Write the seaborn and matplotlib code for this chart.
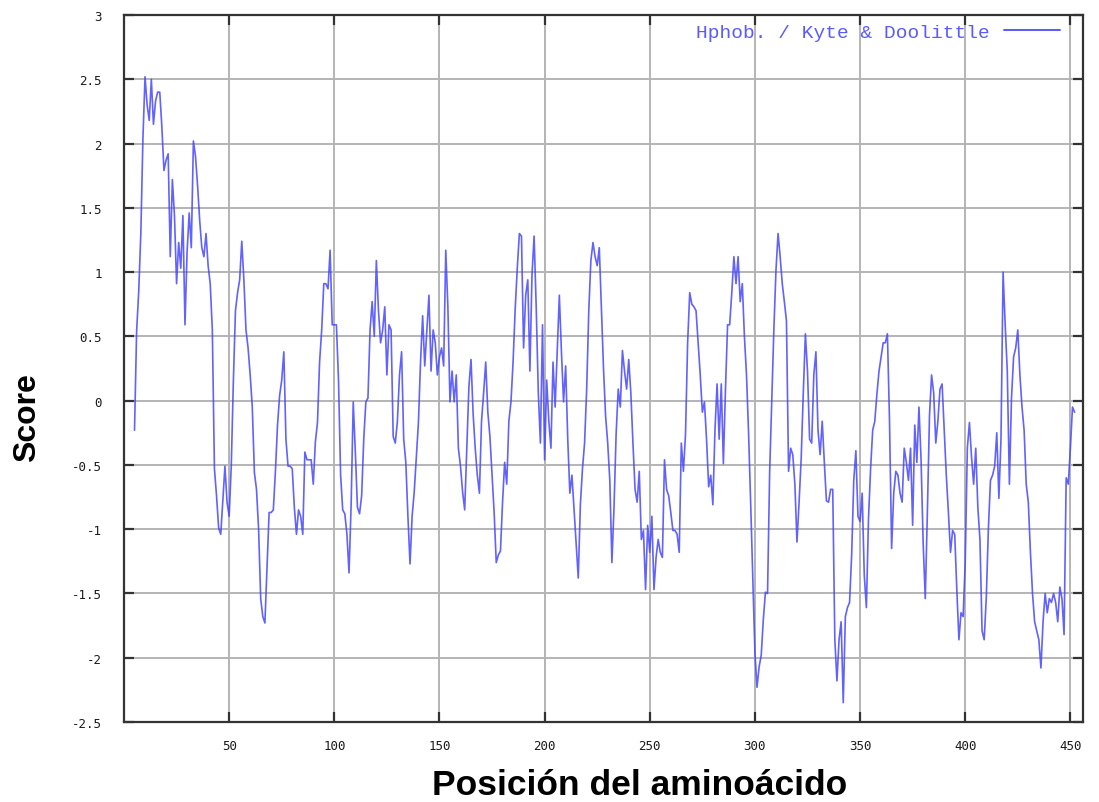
import matplotlib
matplotlib.use("Agg")
import matplotlib.pyplot as plt
import numpy as np
import pandas as pd
import seaborn as sns

# Kyte & Doolittle hydropathy scores (window 9), one value per residue from 5 onward
scores = [
    -0.23, 0.54, 0.85, 1.30, 2.04, 2.52, 2.30, 2.18, 2.50, 2.15,
    2.33, 2.40, 2.40, 2.13, 1.79, 1.87, 1.92, 1.12, 1.72, 1.44,
    0.91, 1.23, 1.03, 1.44, 0.59, 1.16, 1.46, 1.19, 2.02, 1.90,
    1.67, 1.40, 1.19, 1.12, 1.30, 1.05, 0.91, 0.55, -0.53, -0.74,
    -0.99, -1.04, -0.78, -0.51, -0.79, -0.90, -0.51, 0.15, 0.70, 0.84,
    0.94, 1.24, 0.94, 0.55, 0.41, 0.20, -0.05, -0.56, -0.69, -1.00,
    -1.54, -1.68, -1.73, -1.31, -0.87, -0.87, -0.85, -0.55, -0.19, 0.04,
    0.16, 0.38, -0.30, -0.51, -0.51, -0.53, -0.83, -1.04, -0.85, -0.90,
    -1.04, -0.40, -0.46, -0.46, -0.46, -0.65, -0.32, -0.17, 0.30, 0.55,
    0.91, 0.91, 0.87, 1.17, 0.59, 0.59, 0.59, 0.16, -0.58, -0.85,
    -0.88, -1.04, -1.34, -0.81, -0.01, -0.40, -0.83, -0.88, -0.74, -0.30,
    -0.01, 0.02, 0.55, 0.77, 0.50, 1.09, 0.70, 0.45, 0.55, 0.73,
    0.20, 0.59, 0.55, -0.28, -0.33, -0.16, 0.20, 0.38, -0.30, -0.48,
    -0.90, -1.27, -0.90, -0.71, -0.44, -0.17, 0.30, 0.66, 0.27, 0.54,
    0.82, 0.23, 0.55, 0.45, 0.20, 0.34, 0.41, 0.27, 1.17, 0.73,
    -0.01, 0.23, -0.01, 0.20, -0.37, -0.51, -0.71, -0.85, -0.37, 0.11,
    0.32, -0.10, -0.37, -0.58, -0.72, -0.16, 0.06, 0.30, -0.09, -0.28,
    -0.58, -0.87, -1.26, -1.20, -1.17, -0.79, -0.48, -0.65, -0.16, -0.01,
    0.30, 0.71, 1.03, 1.30, 1.28, 0.41, 0.82, 0.94, 0.23, 0.98,
    1.28, 0.73, 0.06, -0.33, 0.59, -0.46, 0.16, -0.16, -0.37, 0.30,
    -0.05, 0.38, 0.82, 0.38, -0.01, 0.27, -0.30, -0.72, -0.58, -0.85,
    -1.11, -1.38, -0.81, -0.53, -0.33, 0.09, 0.70, 1.09, 1.23, 1.12,
    1.05, 1.19, 0.73, 0.25, -0.12, -0.33, -0.62, -1.26, -0.83, -0.26,
    0.09, -0.05, 0.39, 0.23, 0.09, 0.32, 0.06, -0.33, -0.69, -0.79,
    -0.55, -1.08, -1.01, -1.47, -0.97, -1.18, -0.90, -1.47, -1.22, -1.08,
    -1.18, -1.22, -0.46, -0.69, -0.74, -0.87, -1.01, -1.01, -1.04, -1.18,
    -0.33, -0.55, -0.26, 0.45, 0.84, 0.75, 0.73, 0.70, 0.45, 0.20,
    -0.09, -0.01, -0.30, -0.67, -0.58, -0.81, -0.23, 0.13, -0.30, 0.13,
    -0.49, 0.09, 0.59, 0.59, 0.84, 1.12, 0.91, 1.12, 0.77, 0.91,
    0.50, 0.20, -0.26, -0.81, -1.40, -1.96, -2.23, -2.07, -1.98, -1.70,
    -1.49, -1.50, -0.56, -0.01, 0.55, 1.01, 1.30, 1.12, 0.91, 0.77,
    0.62, -0.55, -0.37, -0.42, -0.65, -1.10, -0.79, -0.45, 0.06, 0.52,
    0.23, -0.30, -0.33, 0.20, 0.38, -0.23, -0.42, -0.16, -0.48, -0.78,
    -0.79, -0.69, -0.69, -1.86, -2.18, -1.86, -1.72, -2.35, -1.68, -1.61,
    -1.57, -1.20, -0.62, -0.39, -0.90, -0.94, -0.72, -1.36, -1.61, -0.92,
    -0.53, -0.23, -0.16, 0.05, 0.23, 0.34, 0.45, 0.45, 0.52, -0.16,
    -1.15, -0.72, -0.55, -0.58, -0.72, -0.79, -0.37, -0.48, -0.62, -0.37,
    -0.97, -0.19, -0.48, -0.05, -0.46, -1.11, -1.54, -0.87, -0.12, 0.20,
    0.06, -0.33, -0.16, 0.09, 0.13, -0.23, -0.58, -0.87, -1.18, -1.01,
    -1.04, -1.47, -1.86, -1.65, -1.68, -1.26, -0.37, -0.17, -0.44, -0.65,
    -0.37, -0.83, -1.08, -1.79, -1.86, -1.54, -1.00, -0.62, -0.58, -0.51,
    -0.25, -0.76, -0.30, 1.00, 0.59, 0.23, -0.65, 0.02, 0.34, 0.41,
    0.55, 0.20, -0.05, -0.23, -0.65, -0.79, -1.18, -1.50, -1.72, -1.79,
    -1.86, -2.08, -1.72, -1.50, -1.65, -1.54, -1.57, -1.50, -1.57, -1.72,
    -1.45, -1.54, -1.82, -0.60, -0.65, -0.37, -0.05, -0.09,
]
first_position = 5
positions = list(range(first_position, first_position + len(scores)))

x_ticks = [50, 100, 150, 200, 250, 300, 350, 400, 450]
x_tick_labels = ["50", "100", "150", "200", "250", "300", "350", "400", "450"]
y_ticks = [-2.5, -2, -1.5, -1, -0.5, 0, 0.5, 1, 1.5, 2, 2.5, 3]
y_tick_labels = ["-2.5", "-2", "-1.5", "-1", "-0.5", "0", "0.5", "1", "1.5", "2", "2.5", "3"]

series_label = "Hphob. / Kyte & Doolittle"
x_title = "Posición del aminoácido"
y_title = "Score"

df = pd.DataFrame({"position": positions, "score": scores})

sns.set_theme(style="white")
plt.rcParams["font.family"] = ["DejaVu Sans"]

W, H = 1099, 803
fig = plt.figure(figsize=(W / 100, H / 100), dpi=100)
left, right, top, bottom = 124, 1083, 16, 723
ax = fig.add_axes([left / W, 1 - bottom / H, (right - left) / W, (bottom - top) / H])

line_color = "#4646ff"
sns.lineplot(data=df, x="position", y="score", ax=ax, color=line_color,
             linewidth=1.2, alpha=0.85, label=series_label, zorder=3)

ax.set_xlim(0, 456)
ax.set_ylim(-2.5, 3)
ax.set_xticks(x_ticks)
ax.set_xticklabels(x_tick_labels)
ax.set_yticks(y_ticks)
ax.set_yticklabels(y_tick_labels)
ax.grid(True, color="#b4b4b4", linewidth=1.4, zorder=0)
ax.set_axisbelow(True)

for lab in ax.get_xticklabels() + ax.get_yticklabels():
    lab.set_fontfamily("DejaVu Sans Mono")
    lab.set_fontsize(9)
    lab.set_color("#1a1a1a")
ax.tick_params(axis="both", direction="in", length=7, width=1.6, color="#333333",
               top=True, right=True, bottom=True, left=True)
ax.tick_params(axis="x", pad=12)
ax.tick_params(axis="y", pad=16)

for side in ["left", "right", "top", "bottom"]:
    ax.spines[side].set_visible(True)
    ax.spines[side].set_color("#333333")
    ax.spines[side].set_linewidth(1.6)

ax.set_xlabel("")
ax.set_ylabel("")

leg = ax.legend(loc="center right", bbox_to_anchor=(0.976, 0.976), frameon=False,
                markerfirst=False, handlelength=2.9, handletextpad=0.7,
                borderpad=0, borderaxespad=0,
                prop={"family": "Liberation Mono", "size": 14})
for txt in leg.get_texts():
    txt.set_color("#5a5aff")
for lh in leg.get_lines():
    lh.set_linewidth(1.4)
    lh.set_alpha(0.9)

fig.text(640 / W, 1 - 786 / H, x_title, ha="center", va="center",
         fontsize=25.5, fontweight="bold", color="black",
         family=["Liberation Sans Narrow", "Liberation Sans", "DejaVu Sans"])
fig.text(27 / W, 1 - 418 / H, y_title, ha="center", va="center", rotation=90,
         fontsize=23, fontweight="bold", color="black",
         family=["Liberation Sans", "DejaVu Sans"])

fig.savefig("out.png", dpi=100, facecolor="white")
